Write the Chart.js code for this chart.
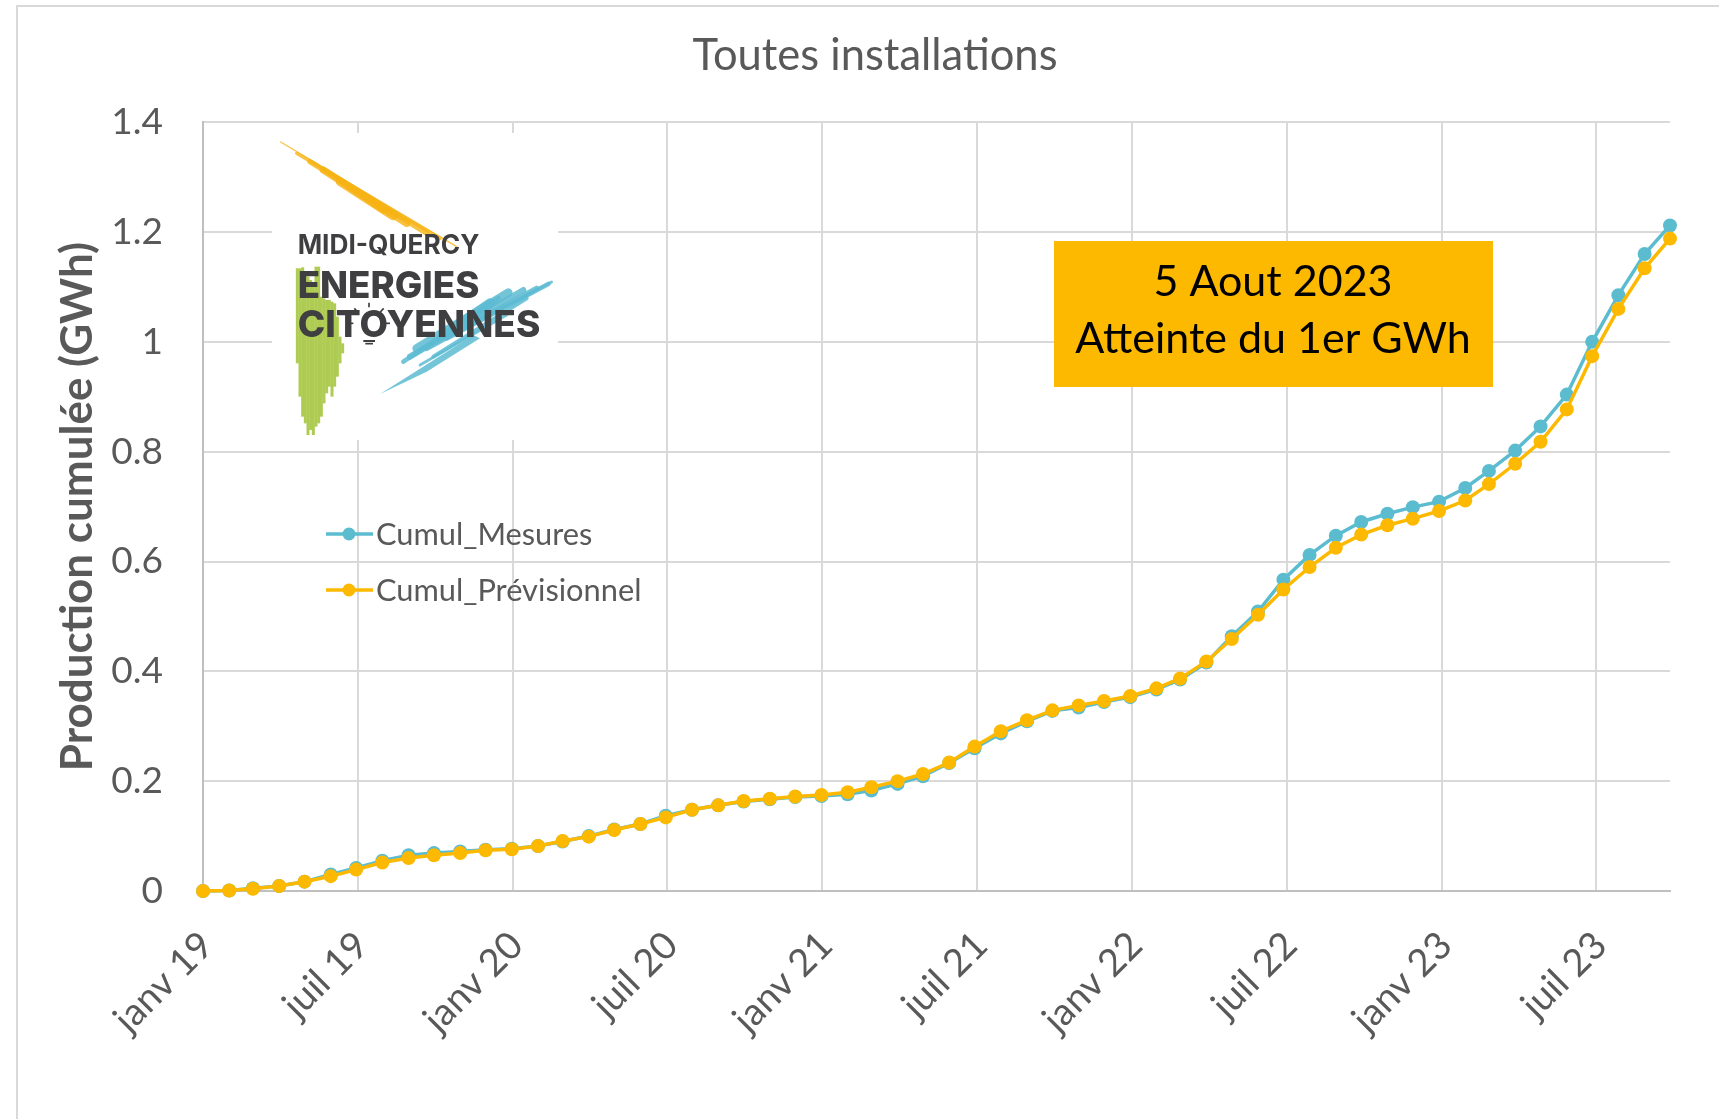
<!DOCTYPE html>
<html lang="fr">
<head>
<meta charset="utf-8">
<title>Toutes installations</title>
<script src="https://cdn.jsdelivr.net/npm/chart.js@4"></script>
<style>
  html, body { margin: 0; padding: 0; background: #fff; }
  canvas { display: block; }
</style>
</head>
<body>
<canvas id="prodChart" width="1719" height="1119"></canvas>
<script>
// Data
const months = [
  '2019-01-01','2019-02-01','2019-03-01','2019-04-01','2019-05-01','2019-06-01','2019-07-01','2019-08-01','2019-09-01','2019-10-01','2019-11-01','2019-12-01',
  '2020-01-01','2020-02-01','2020-03-01','2020-04-01','2020-05-01','2020-06-01','2020-07-01','2020-08-01','2020-09-01','2020-10-01','2020-11-01','2020-12-01',
  '2021-01-01','2021-02-01','2021-03-01','2021-04-01','2021-05-01','2021-06-01','2021-07-01','2021-08-01','2021-09-01','2021-10-01','2021-11-01','2021-12-01',
  '2022-01-01','2022-02-01','2022-03-01','2022-04-01','2022-05-01','2022-06-01','2022-07-01','2022-08-01','2022-09-01','2022-10-01','2022-11-01','2022-12-01',
  '2023-01-01','2023-02-01','2023-03-01','2023-04-01','2023-05-01','2023-06-01','2023-07-01','2023-08-01','2023-09-01','2023-10-01'
];
const cumulMesures = [
  0, .001, .005, .009, .017, .030, .042, .055, .065, .069, .072, .075,
  .077, .082, .090, .100, .112, .122, .137, .148, .156, .163, .167, .171,
  .173, .176, .183, .195, .209, .233, .260, .287, .309, .328, .334, .344,
  .353, .367, .385, .416, .464, .509, .567, .612, .647, .672, .687, .699,
  .709, .734, .765, .802, .846, .904, 1.0, 1.085, 1.160, 1.212
];
const cumulPrevisionnel = [
  0, .001, .004, .009, .017, .027, .039, .052, .060, .065, .069, .074,
  .076, .082, .091, .099, .111, .122, .134, .148, .156, .164, .168, .172,
  .175, .180, .189, .200, .213, .234, .263, .291, .311, .329, .338, .346,
  .355, .369, .387, .418, .459, .503, .549, .590, .625, .649, .666, .678,
  .692, .711, .741, .778, .818, .877, .974, 1.060, 1.134, 1.188
];
const xTickLabels = ['janv 19','juil 19','janv 20','juil 20','janv 21','juil 21','janv 22','juil 22','janv 23','juil 23'];
const yTickLabels = ['0','0.2','0.4','0.6','0.8','1','1.2','1.4'];
const tickDays = 183; // date axis major unit

const GREY = '#595959';
const BLUE = '#5BBCD0';
const ORANGE = '#FDB900';
const FONT = 'Lato, Carlito, sans-serif';

const dayOf = d => (new Date(d) - new Date(months[0])) / 864e5;
const toPoints = vals => vals.map((v, i) => ({ x: dayOf(months[i]), y: v }));

// Outer frame of the pasted slide
const framePlugin = {
  id: 'frame',
  beforeDraw(chart) {
    const c = chart.ctx;
    c.save();
    c.strokeStyle = '#D9D9D9';
    c.lineWidth = 2;
    c.beginPath();
    c.moveTo(17, 1119);
    c.lineTo(17, 6);
    c.lineTo(1719, 6);
    c.stroke();
    c.restore();
  }
};

// Logo artwork, all in logo units (3 units = 1 px)
const greenStreaks = [
  [112,415,700],[120,415,800],[128,412,860],[136,430,880],[144,440,915],[152,450,900],[160,470,915],[168,410,890],
  [176,410,880],[184,500,860],[192,505,820],[200,510,790],[208,510,770],[216,515,800],[224,520,770],[232,560,740],
  [240,620,700],[248,640,670]
];
const blueStreaks = [
  [875,456,610,595,8],[865,462,560,625,14],[830,475,500,655,16],[790,480,450,680,18],[745,488,470,655,26],
  [715,505,430,695,14],[690,520,560,610,30],[800,505,520,680,12],[740,555,480,705,8]
];
const orangeStreaks = [
  [62,36,590,350,4],[110,70,540,325,10],[150,95,500,310,16],[190,120,440,280,22],[240,155,400,258,26],[270,170,370,240,20]
];

function brush(c, pts, color) {
  c.fillStyle = color;
  c.beginPath();
  pts.forEach((p, i) => i ? c.lineTo(p[0], p[1]) : c.moveTo(p[0], p[1]));
  c.closePath();
  c.fill();
}

function streak(c, s) {
  c.lineWidth = s[4];
  c.beginPath();
  c.moveTo(s[0], s[1]);
  c.lineTo(s[2], s[3]);
  c.stroke();
}

function logoWord(c, text, x, y, font, width) {
  c.font = font;
  c.fillText(text, x, y, width);
}

// White patch with the Midi-Quercy logo
const logoPlugin = {
  id: 'logo',
  afterDatasetsDraw(chart) {
    const c = chart.ctx;
    c.save();
    c.fillStyle = '#fff';
    c.fillRect(272, 133, 286, 307);

    c.save();
    c.translate(260, 130);
    c.scale(1 / 3, 1 / 3);
    c.lineCap = 'round';

    c.strokeStyle = 'rgba(246,179,20,0.8)';
    orangeStreaks.forEach(s => streak(c, s));

    c.lineCap = 'butt';
    c.strokeStyle = '#AECB52';
    greenStreaks.forEach(g => streak(c, [g[0], g[1], g[0], g[2], 9]));

    c.lineCap = 'round';
    c.strokeStyle = 'rgba(93,187,210,0.85)';
    blueStreaks.forEach(s => streak(c, s));
    brush(c, [[640,615],[360,792],[500,725],[660,625]], 'rgba(93,187,210,0.85)');

    c.fillStyle = '#3F3F41';
    c.strokeStyle = '#3F3F41';
    c.textBaseline = 'alphabetic';
    c.textAlign = 'left';
    logoWord(c, 'MIDI-QUERCY', 113, 372, '700 80px Inter, Lato, sans-serif', 545);
    logoWord(c, 'ENERGIES', 113, 505, '800 112px Inter, Lato, sans-serif', 545);
    logoWord(c, 'CITOYENNES', 113, 622, '800 112px Inter, Lato, sans-serif', 728);
    // bulb rays around the O
    c.lineCap = 'butt';
    [[327,518,327,532,5],[283,535,293,546,5],[371,535,361,546,5],[266,580,280,580,5],[374,580,390,580,5],[310,633,345,633,6],[316,641,339,641,5]]
      .forEach(s => streak(c, s));
    c.restore();

    c.restore();
  }
};

// Legend sits inside the plot, drawn from the dataset settings
const legendPlugin = {
  id: 'insideLegend',
  afterDatasetsDraw(chart) {
    const c = chart.ctx;
    const rows = [534, 590];
    c.save();
    chart.data.datasets.forEach((ds, i) => {
      const y = rows[i];
      c.strokeStyle = ds.borderColor;
      c.lineWidth = 3.5;
      c.beginPath();
      c.moveTo(326, y);
      c.lineTo(373, y);
      c.stroke();
      c.fillStyle = ds.borderColor;
      c.beginPath();
      c.arc(349, y, 6.5, 0, Math.PI * 2);
      c.fill();
      c.fillStyle = GREY;
      c.font = '30.8px ' + FONT;
      c.textAlign = 'left';
      c.textBaseline = 'middle';
      c.fillText(ds.label, 376, y + 1);
    });
    c.restore();
  }
};

// Orange note box
const notePlugin = {
  id: 'note',
  afterDatasetsDraw(chart) {
    const c = chart.ctx;
    c.save();
    c.fillStyle = ORANGE;
    c.fillRect(1054, 241, 439, 146);
    c.fillStyle = '#000';
    c.font = '43px ' + FONT;
    c.textAlign = 'center';
    c.textBaseline = 'middle';
    c.fillText('5 Aout 2023', 1273, 282);
    c.fillText('Atteinte du 1er GWh', 1273, 339);
    c.restore();
  }
};

new Chart(document.getElementById('prodChart'), {
  type: 'line',
  data: {
    datasets: [
      {
        label: 'Cumul_Mesures',
        data: toPoints(cumulMesures),
        borderColor: BLUE,
        backgroundColor: BLUE,
        borderWidth: 3.5,
        pointRadius: 7,
        pointBorderWidth: 0,
        tension: 0,
        clip: false,
        order: 2
      },
      {
        label: 'Cumul_Prévisionnel',
        data: toPoints(cumulPrevisionnel),
        borderColor: ORANGE,
        backgroundColor: ORANGE,
        borderWidth: 3.5,
        pointRadius: 7,
        pointBorderWidth: 0,
        tension: 0,
        clip: false,
        order: 1
      }
    ]
  },
  plugins: [framePlugin, logoPlugin, legendPlugin, notePlugin],
  options: {
    responsive: false,
    animation: false,
    events: [],
    layout: { padding: { left: 80, right: 49, top: 0, bottom: 0 } },
    plugins: {
      legend: { display: false },
      tooltip: { enabled: false },
      title: {
        display: true,
        text: 'Toutes installations',
        color: GREY,
        font: { family: FONT, size: 43.5, weight: 'normal' },
        padding: { top: 30, bottom: 40 }
      }
    },
    scales: {
      x: {
        type: 'linear',
        min: 0,
        max: dayOf(months[months.length - 1]),
        afterBuildTicks(scale) {
          scale.ticks = xTickLabels.map((_, i) => ({ value: i * tickDays }));
        },
        afterFit(scale) { scale.height = 228; },
        grid: { color: '#D9D9D9', lineWidth: 2, drawTicks: false },
        border: { color: '#BFBFBF', width: 2 },
        ticks: {
          autoSkip: false,
          maxRotation: 45,
          minRotation: 45,
          padding: 32,
          labelOffset: 4,
          color: GREY,
          font: { family: FONT, size: 38 },
          callback: v => xTickLabels[Math.round(v / tickDays)]
        }
      },
      y: {
        min: 0,
        max: 1.4,
        afterBuildTicks(scale) {
          scale.ticks = yTickLabels.map(t => ({ value: +t }));
        },
        afterFit(scale) { scale.width = 123; },
        grid: { color: '#D9D9D9', lineWidth: 2, drawTicks: false },
        border: { color: '#BFBFBF', width: 2 },
        ticks: {
          padding: 40,
          color: GREY,
          font: { family: FONT, size: 37 },
          callback: v => String(+v.toFixed(1))
        },
        title: {
          display: true,
          text: 'Production cumulée (GWh)',
          color: GREY,
          font: { family: FONT, size: 44, weight: 'bold' },
          padding: { top: -29, bottom: 0 }
        }
      }
    }
  }
});
</script>
</body>
</html>
